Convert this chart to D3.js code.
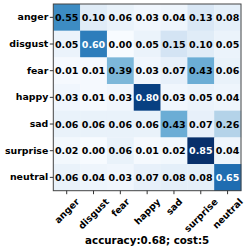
<!DOCTYPE html>
<html>
<head>
<meta charset="utf-8">
<script src="https://cdn.jsdelivr.net/npm/d3@7"></script>
<style>
html,body{margin:0;padding:0;background:#fff;}
svg{display:block;}
text{font-family:"DejaVu Sans",sans-serif;font-weight:bold;}
</style>
</head>
<body>
<script>
const labels = ["anger","disgust","fear","happy","sad","surprise","neutral"];
const rowAnger    = [0.55,0.10,0.06,0.03,0.04,0.13,0.08];
const rowDisgust  = [0.05,0.60,0.00,0.05,0.15,0.10,0.05];
const rowFear     = [0.01,0.01,0.39,0.03,0.07,0.43,0.06];
const rowHappy    = [0.03,0.01,0.03,0.80,0.03,0.05,0.04];
const rowSad      = [0.06,0.06,0.06,0.06,0.43,0.07,0.26];
const rowSurprise = [0.02,0.00,0.06,0.01,0.02,0.85,0.04];
const rowNeutral  = [0.06,0.04,0.03,0.07,0.08,0.08,0.65];
const matrix = [rowAnger,rowDisgust,rowFear,rowHappy,rowSad,rowSurprise,rowNeutral];
const xlabelText = "accuracy:0.68; cost:5";

const W = 249, H = 250;
const mLeft = 53.3, mRight = 241, mTop = 4, mBottom = 190.7;

const svg = d3.select("body").append("svg").attr("width", W).attr("height", H);

const x = d3.scaleBand().domain(labels).range([mLeft, mRight]);
const y = d3.scaleBand().domain(labels).range([mTop, mBottom]);
const vmax = d3.max(matrix.flat());
const color = d3.scaleSequential(d3.interpolateBlues).domain([0, vmax]);
const thresh = vmax / 1.5;

const cells = [];
matrix.forEach((row, i) => row.forEach((v, j) => cells.push({r: labels[i], c: labels[j], v})));

svg.append("g").selectAll("rect").data(cells).join("rect")
  .attr("x", d => x(d.c)).attr("y", d => y(d.r))
  .attr("width", x.bandwidth() + 0.3).attr("height", y.bandwidth() + 0.3)
  .attr("fill", d => color(d.v));

svg.append("g").selectAll("text").data(cells).join("text")
  .attr("x", d => x(d.c) + x.bandwidth() / 2)
  .attr("y", d => y(d.r) + y.bandwidth() / 2)
  .attr("text-anchor", "middle").attr("dominant-baseline", "central")
  .attr("font-size", 9.5)
  .attr("fill", d => d.v > thresh ? "#fff" : "#000")
  .text(d => d.v.toFixed(2));

svg.append("rect").attr("x", mLeft).attr("y", mTop)
  .attr("width", mRight - mLeft).attr("height", mBottom - mTop)
  .attr("fill", "none").attr("stroke", "#444").attr("stroke-width", 1);

const yAxis = d3.axisLeft(y).tickSize(3.5).tickPadding(1.5);
const gy = svg.append("g").attr("transform", `translate(${mLeft},0)`).call(yAxis);
gy.select(".domain").remove();
gy.selectAll("line").attr("stroke", "#333");
gy.selectAll("text").attr("font-size", 9.4).attr("fill", "#000")
  .style("font-family", "DejaVu Sans").style("font-weight", "bold");

const xAxis = d3.axisBottom(x).tickSize(3.5).tickFormat("");
const gx = svg.append("g").attr("transform", `translate(0,${mBottom})`).call(xAxis);
gx.select(".domain").remove();
gx.selectAll("line").attr("stroke", "#333");

const labelTop = mBottom + 6;
const xl = svg.append("g");
labels.forEach(l => {
  const t = xl.append("text").attr("font-size", 9.3)
    .attr("text-anchor", "middle").attr("dominant-baseline", "central")
    .text(l);
  const w = t.node().getComputedTextLength();
  const h = 9;
  const half = (w + h) * Math.SQRT1_2 / 2;
  const cx = x(l) + x.bandwidth() / 2;
  const cy = labelTop + half;
  t.attr("x", cx).attr("y", cy).attr("transform", `rotate(-45,${cx},${cy})`);
});

svg.append("text").attr("x", (mLeft + mRight) / 2).attr("y", 240)
  .attr("text-anchor", "middle").attr("dominant-baseline", "central")
  .attr("font-size", 10.3).text(xlabelText);
</script>
</body>
</html>
